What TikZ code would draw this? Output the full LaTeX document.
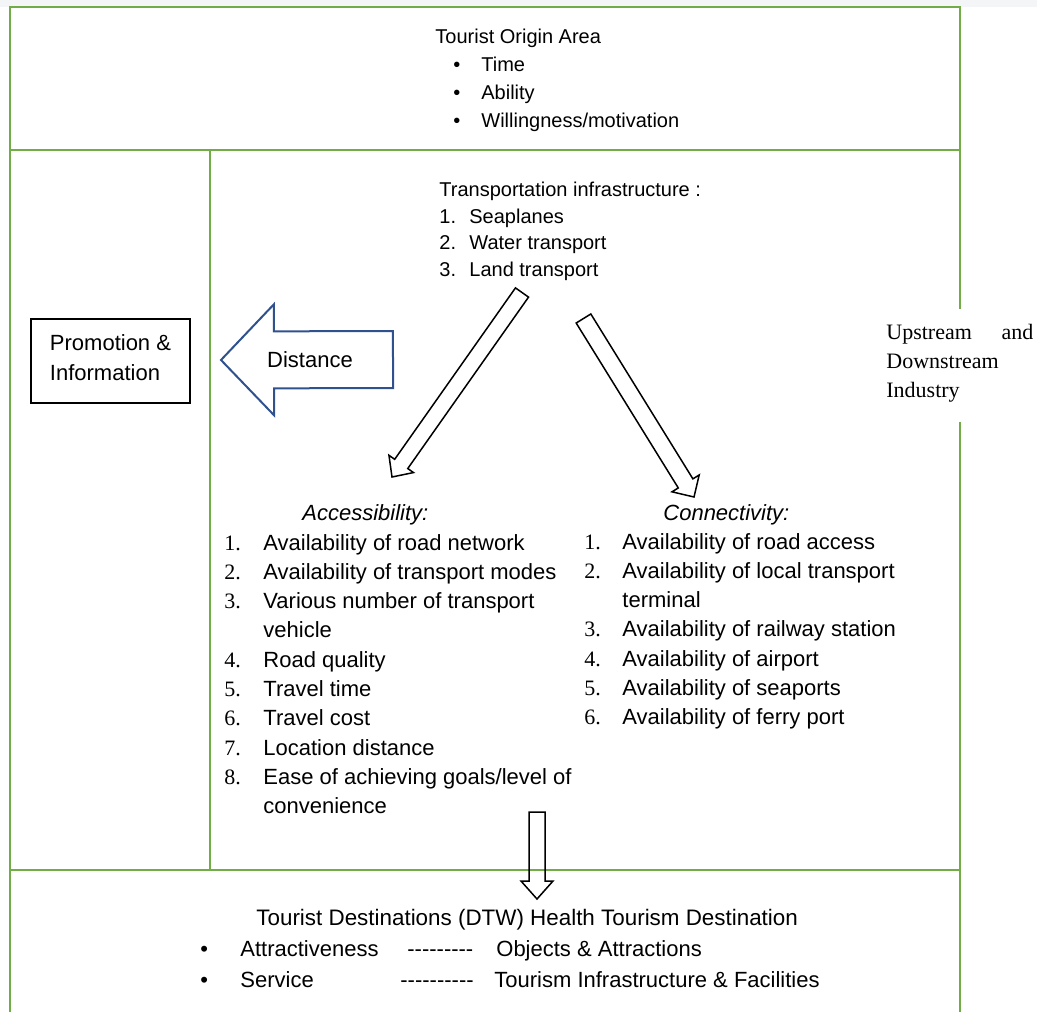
\documentclass[tikz,border=0pt]{standalone}
\usepackage{fontspec}
\setmainfont{Liberation Sans}
\newfontfamily\numfont{Liberation Serif}
\usetikzlibrary{calc}

\definecolor{framegreen}{RGB}{112,173,71}
\definecolor{arrowblue}{RGB}{47,82,143}
\definecolor{stripgray}{RGB}{244,245,247}

% block arrow: [style]{tail}{tip}{half shaft}{half head}{head length}
\newcommand{\blockarrow}[6][]{%
  \path ($(#3)!#6!(#2)$) coordinate (hb);
  \draw[#1] ($(#2)!#4!90:(#3)$) -- ($(hb)!#4!90:(#3)$) -- ($(hb)!#5!90:(#3)$) -- (#3)
    -- ($(hb)!#5!-90:(#3)$) -- ($(hb)!#4!-90:(#3)$) -- ($(#2)!#4!-90:(#3)$) -- cycle;}
\newcommand{\dashes}[1]{\foreach \i in {1,...,#1}{\mbox{-}}}

\begin{document}
\begin{tikzpicture}[
  x=0.5pt, y=-0.5pt,
  frame/.style={draw=framegreen, line width=1pt},
  fat/.style={draw=black, line width=0.75pt, line join=miter},
  fatblue/.style={draw=arrowblue, fill=white, line width=1pt, line join=miter},
  txt/.style={inner sep=0pt, font=\fontsize{10}{12}\selectfont},
  item/.style={inner sep=0pt, font=\fontsize{11}{13}\selectfont},
  promo/.style={draw, line width=1pt, align=left, minimum width=79.5pt, minimum height=42pt,
    inner sep=0pt, font=\fontsize{11}{15}\selectfont},
  ind/.style={inner sep=0pt, align=left, text width=73.5pt, font=\numfont\fontsize{11}{14.5}\selectfont}
]
\useasboundingbox (0,0) rectangle (1037,1012);
\fill[stripgray] (0,0) rectangle (1037,7);

% frames
\draw[frame] (10,1012) -- (10,7) -- (960,7) -- (960,309);
\draw[frame] (960,422) -- (960,1012);
\draw[frame] (10,150) -- (960,150);
\draw[frame] (210,150) -- (210,870);
\draw[frame] (10,870) -- (960,870);

% tourist origin
\node[txt, anchor=base west] (origin) at (435,43) {Tourist Origin Area};
\foreach \y/\t [count=\k] in {71/Time, 99/Ability, 127/{Willingness/motivation}}
  \node[txt, anchor=base west] (orig\k) at (453,\y) {\makebox[14pt][l]{\textbullet}\t};

% transportation
\node[txt, anchor=base west] (trans) at (439,196) {Transportation infrastructure :};
\foreach \y/\n/\t [count=\k] in {223/1./Seaplanes, 249/2./Water transport, 276/3./Land transport}
  \node[txt, anchor=base west] (trans\k) at (439,\y) {\makebox[15pt][l]{\n}\t};

% promotion and distance
\draw[line width=1pt] (31,319) rectangle (190,403);
\node[inner sep=0pt, align=left, font=\fontsize{11}{15}\selectfont] (promo) at (110.5,358) {Promotion \&\\Information};
\coordinate (dist-tail) at (393,359.5);
\coordinate (dist-tip) at (221,360);
\blockarrow[fatblue]{dist-tail}{dist-tip}{14.25pt}{27.75pt}{26.5pt}
\node[item] (dist) at (310,360) {Distance};

% industry
\node[ind, anchor=west] (ind) at (886,363) {Upstream\hfill and\\Downstream\\Industry};

% fat arrows
\coordinate (acc-tail) at (522,292.5);
\coordinate (acc-tip) at (392,477);
\blockarrow[fat]{acc-tail}{acc-tip}{4pt}{7.5pt}{8pt}
\coordinate (con-tail) at (583.5,318.5);
\coordinate (con-tip) at (694,497);
\blockarrow[fat]{con-tail}{con-tip}{4.3pt}{8pt}{8pt}

% accessibility
\node[item, anchor=base west] (acc) at (302,520) {\itshape Accessibility:};
\foreach \n/\t [count=\k] in {1./Availability of road network, 2./Availability of transport modes,
    3./Various number of transport, /vehicle, 4./Road quality, 5./Travel time, 6./Travel cost,
    7./Location distance, 8./{Ease of achieving goals/level of}, /convenience}
  \node[item, anchor=base west] (acc\k) at (224,520.7+29.3*\k) {\makebox[19.5pt][l]{\numfont\n}\t};

% connectivity
\node[item, anchor=base west] (con) at (663,520) {\itshape Connectivity:};
\foreach \n/\t [count=\k] in {1./Availability of road access, 2./Availability of local transport,
    /terminal, 3./Availability of railway station, 4./Availability of airport,
    5./Availability of seaports, 6./Availability of ferry port}
  \node[item, anchor=base west] (con\k) at (584,519.7+29.3*\k) {\makebox[19pt][l]{\numfont\n}\t};

% down to destination
\coordinate (dest-tail) at (537,812);
\coordinate (dest-tip) at (537,899);
\blockarrow[fat]{dest-tail}{dest-tip}{4pt}{8pt}{9pt}

% destination
\node[item, font=\fontsize{11.2}{13}\selectfont, anchor=base west] (dest) at (256,925) {Tourist Destinations (DTW) Health Tourism Destination};
\node[item, anchor=base west] (dest1) at (200,956)
  {\makebox[20pt][l]{\textbullet}\makebox[83.5pt][l]{Attractiveness}\makebox[44.5pt][l]{\dashes{9}}Objects \& Attractions};
\node[item, anchor=base west] (dest2) at (200,987)
  {\makebox[20pt][l]{\textbullet}\makebox[80pt][l]{Service}\makebox[47pt][l]{\dashes{10}}Tourism Infrastructure \& Facilities};
\end{tikzpicture}
\end{document}
